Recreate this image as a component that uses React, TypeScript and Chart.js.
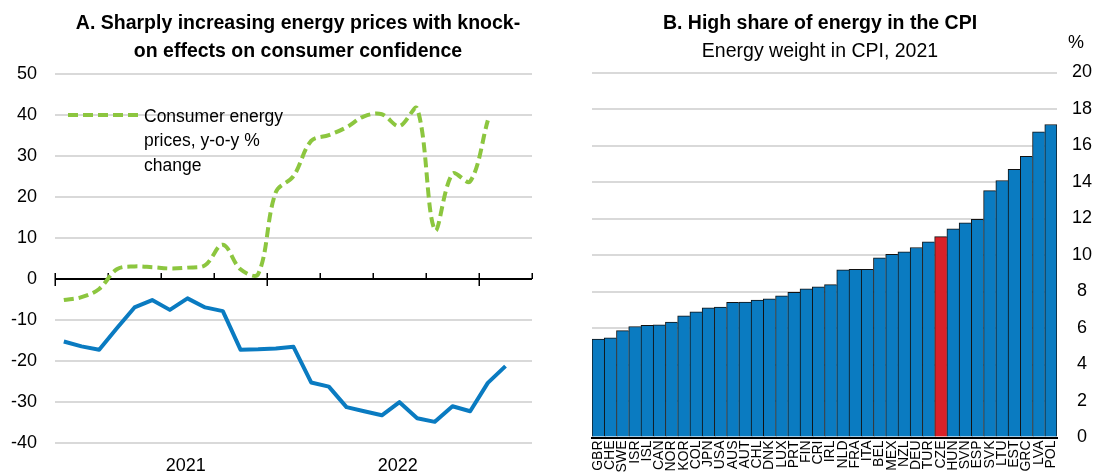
import React, { useEffect, useRef } from "react";
import { Chart, registerables } from "chart.js";

Chart.register(...registerables);

const FONT = "'Liberation Sans', Arial, Helvetica, sans-serif";
const BLUE = "#0A7BC1";
const GREEN = "#8CC63F";
const RED = "#DA2128";
const GRID = "#d9d9d9";

// Panel A: monthly data
const months = [
  "2021-01", "2021-02", "2021-03", "2021-04", "2021-05", "2021-06",
  "2021-07", "2021-08", "2021-09", "2021-10", "2021-11", "2021-12",
  "2022-01", "2022-02", "2022-03", "2022-04", "2022-05", "2022-06",
  "2022-07", "2022-08", "2022-09", "2022-10", "2022-11", "2022-12",
  "2023-01", "2023-02",
];
const energyPrices = [
  -5.1, -4.4, -2.4, 2.4, 3.1, 2.9, 2.6, 2.8, 3.4, 8.4, 2.4, 1.2,
  21.2, 25.1, 33.7, 35.1, 37.0, 39.7, 40.2, 37.3, 41.6, 12.0, 25.7, 23.8,
  38.7,
];
const consumerConfidence = [
  -15.2, -16.4, -17.2, -12.0, -6.9, -5.1, -7.5, -4.7, -6.9, -7.8, -17.2, -17.1,
  -16.9, -16.5, -25.2, -26.2, -31.2, -32.2, -33.2, -30.0, -33.9, -34.8, -31.0, -32.2,
  -25.3, -21.2,
];
const yearLabels = ["2021", "2022"];
const yearLabelAt = [7.4, 19.4];
const quarterTicks = [0, 3, 6, 9, 12, 15, 18, 21, 24, 27];
const yearTicks = [0, 12, 24];
const legendLines = ["Consumer energy", "prices, y-o-y %", "change"];

// Panel B
const countries = [
  "GBR", "CHE", "SWE", "ISR", "ISL", "CAN", "NOR", "KOR", "COL", "JPN",
  "USA", "AUS", "AUT", "CHL", "DNK", "LUX", "PRT", "FIN", "CRI", "IRL",
  "NLD", "FRA", "ITA", "BEL", "MEX", "NZL", "DEU", "TUR", "CZE", "HUN",
  "SVN", "ESP", "SVK", "LTU", "EST", "GRC", "LVA", "POL",
];
const energyWeight = [
  5.39, 5.46, 5.86, 6.08, 6.14, 6.17, 6.32, 6.67, 6.89, 7.11,
  7.14, 7.40, 7.42, 7.53, 7.60, 7.76, 7.96, 8.15, 8.26, 8.38,
  9.19, 9.21, 9.22, 9.85, 10.03, 10.17, 10.41, 10.72, 11.01, 11.43,
  11.76, 11.96, 13.53, 14.08, 14.70, 15.41, 16.75, 17.15,
];
const highlight = "CZE";

const leftPlugin = {
  id: "leftDecor",
  beforeDatasetsDraw(chart: any) {
    const { ctx, chartArea, scales } = chart;
    const x = scales.x;
    const y0 = scales.y.getPixelForValue(0);
    ctx.save();
    ctx.strokeStyle = "#000";
    ctx.lineWidth = 2;
    ctx.beginPath();
    ctx.moveTo(chartArea.left, y0);
    ctx.lineTo(chartArea.right, y0);
    ctx.stroke();
    ctx.lineWidth = 1.5;
    quarterTicks.forEach((q) => {
      const px = Math.round(x.getPixelForValue(q)) + 0.25;
      ctx.beginPath();
      if (yearTicks.includes(q)) {
        ctx.moveTo(px, y0 - 6);
        ctx.lineTo(px, y0 + 7);
      } else {
        ctx.moveTo(px, y0 - 6);
        ctx.lineTo(px, y0);
      }
      ctx.stroke();
    });
    ctx.restore();
  },
  afterDraw(chart: any) {
    const { ctx, scales } = chart;
    ctx.save();
    // legend
    ctx.strokeStyle = GREEN;
    ctx.lineWidth = 4;
    ctx.setLineDash([10, 5]);
    ctx.beginPath();
    ctx.moveTo(68, 115);
    ctx.lineTo(140, 115);
    ctx.stroke();
    ctx.setLineDash([]);
    ctx.fillStyle = "#000";
    ctx.font = `17.5px ${FONT}`;
    ctx.textAlign = "left";
    ctx.textBaseline = "middle";
    legendLines.forEach((t, i) => ctx.fillText(t, 144, 117 + i * 24.5));
    // year labels
    ctx.font = `18px ${FONT}`;
    ctx.textAlign = "center";
    ctx.textBaseline = "alphabetic";
    yearLabels.forEach((t, i) => {
      ctx.fillText(t, scales.x.getPixelForValue(yearLabelAt[i]), 471);
    });
    ctx.restore();
  },
};

function LeftChart() {
  const ref = useRef<HTMLCanvasElement>(null);
  useEffect(() => {
    if (!ref.current) return;
    const chart = new Chart(ref.current, {
      type: "line",
      data: {
        datasets: [
          {
            label: "Consumer confidence",
            data: consumerConfidence.map((v, i) => ({ x: i + 0.5, y: v })),
            borderColor: BLUE,
            borderWidth: 4,
            pointRadius: 0,
            tension: 0,
            fill: false,
            borderJoinStyle: "round",
          },
          {
            label: "Consumer energy prices, y-o-y % change",
            data: energyPrices.map((v, i) => ({ x: i + 0.5, y: v })),
            borderColor: GREEN,
            borderWidth: 4,
            borderDash: [10, 5],
            pointRadius: 0,
            tension: 0.35,
            fill: false,
          },
        ],
      },
      options: {
        animation: false,
        responsive: false,
        maintainAspectRatio: false,
        layout: { padding: { left: 0, right: 28, top: 74, bottom: 24 } },
        plugins: { legend: { display: false }, tooltip: { enabled: false }, title: { display: false } },
        scales: {
          x: { type: "linear", min: 0, max: 27, display: false },
          y: {
            min: -40,
            max: 50,
            ticks: { stepSize: 10, color: "#000", font: { family: FONT, size: 18 }, padding: 18 },
            grid: {
              color: (c: any) => (c.tick && c.tick.value === 0 ? "rgba(0,0,0,0)" : GRID),
              lineWidth: 2,
              drawTicks: false,
            },
            border: { display: false },
            afterFit: (s: any) => {
              s.width = 55;
            },
          },
        },
      },
      plugins: [leftPlugin],
    } as any);
    return () => chart.destroy();
  }, []);
  return <canvas ref={ref} width={560} height={472} style={{ position: "absolute", left: 0, top: 0, width: 560, height: 472 }} />;
}

function RightChart() {
  const ref = useRef<HTMLCanvasElement>(null);
  useEffect(() => {
    if (!ref.current) return;
    const last = countries.length - 1;
    const chart = new Chart(ref.current, {
      type: "bar",
      data: {
        labels: countries,
        datasets: [
          {
            label: "Energy weight in CPI, 2021",
            data: energyWeight,
            backgroundColor: countries.map((c) => (c === highlight ? RED : BLUE)),
            borderColor: "#111",
            borderWidth: (c: any) =>
              c.dataIndex === last ? { top: 1, left: 1, right: 1, bottom: 0 } : { top: 1, left: 1, right: 0, bottom: 0 },
            borderSkipped: false,
            categoryPercentage: 1,
            barPercentage: 1,
          },
        ],
      },
      options: {
        animation: false,
        responsive: false,
        maintainAspectRatio: false,
        layout: { padding: { left: 32, right: 0, top: 72.5, bottom: 0 } },
        plugins: { legend: { display: false }, tooltip: { enabled: false } },
        scales: {
          x: {
            grid: { display: false, drawTicks: false },
            border: { display: true, color: "#000", width: 2 },
            ticks: {
              autoSkip: false,
              minRotation: 90,
              maxRotation: 90,
              color: "#000",
              font: { family: FONT, size: 14 },
              padding: 3,
            },
            afterFit: (s: any) => {
              s.height = 34.5;
            },
          },
          y: {
            position: "right",
            min: 0,
            max: 20,
            ticks: { stepSize: 2, color: "#000", font: { family: FONT, size: 18 }, padding: 15, crossAlign: "center" },
            grid: { color: GRID, lineWidth: 2, drawTicks: false },
            border: { display: false },
            afterFit: (s: any) => {
              s.width = 40;
            },
          },
        },
      },
    } as any);
    return () => chart.destroy();
  }, []);
  return <canvas ref={ref} width={537} height={472} style={{ position: "absolute", left: 560, top: 0, width: 537, height: 472 }} />;
}

export default function App() {
  return (
    <div
      style={{
        position: "fixed",
        left: 0,
        top: 0,
        width: 1097,
        height: 472,
        overflow: "hidden",
        background: "#fff",
        fontFamily: FONT,
        color: "#000",
      }}
    >
      <LeftChart />
      <RightChart />
      <div
        style={{
          position: "absolute",
          left: 0,
          top: 8,
          width: 596,
          textAlign: "center",
          fontWeight: "bold",
          fontSize: 19.5,
          lineHeight: "28px",
        }}
      >
        A. Sharply increasing energy prices with knock-
        <br />
        on effects on consumer confidence
      </div>
      <div
        style={{
          position: "absolute",
          left: 560,
          top: 8,
          width: 520,
          textAlign: "center",
          fontSize: 19.5,
          lineHeight: "28px",
        }}
      >
        <div style={{ fontWeight: "bold" }}>B. High share of energy in the CPI</div>
        <div>Energy weight in CPI, 2021</div>
      </div>
      <div style={{ position: "absolute", left: 1068, top: 31, fontSize: 18, lineHeight: "22px" }}>%</div>
    </div>
  );
}
